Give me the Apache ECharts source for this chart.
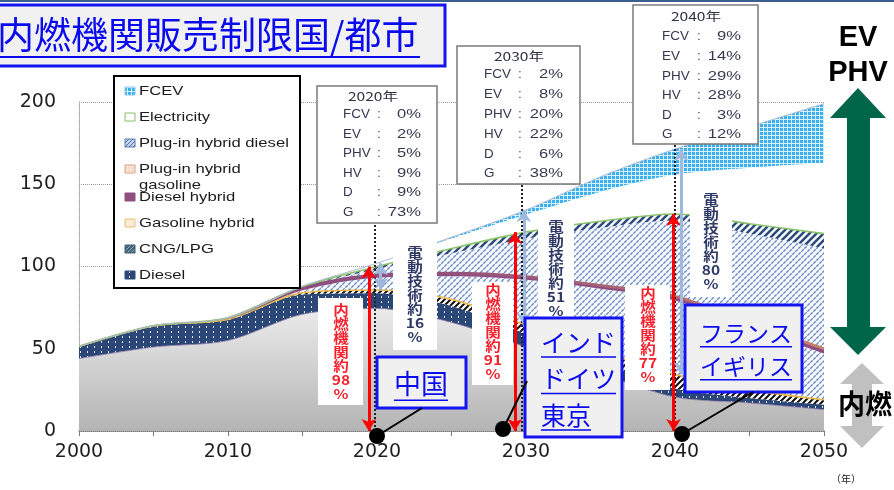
<!DOCTYPE html>
<html>
<head>
<meta charset="utf-8">
<script src="https://cdn.jsdelivr.net/npm/echarts@6/dist/echarts.min.js"></script>
<style>
  html, body { margin: 0; padding: 0; background: #ffffff; }
  #chart { width: 894px; height: 490px; }
</style>
</head>
<body>
<div id="chart"></div>
<script>
// ---- data: new-vehicle sales by powertrain (stacked, bottom to top) ----
const years = [2000, 2005, 2010, 2015, 2020, 2025, 2030, 2035, 2040, 2045, 2050];
const gasoline       = [44, 51, 55, 71, 74.5, 66, 51, 35, 20.6, 17, 13];
const diesel         = [7, 12.5, 12.5, 12, 9.2, 10, 8, 6.5, 5.2, 3, 3];
const cngLpg         = [0.3, 0.3, 0.5, 1, 2, 4, 5.4, 7, 8.6, 5, 3];
const gasolineHybrid = [0.2, 0.3, 0.5, 1.5, 7.5, 14, 27.5, 38, 45, 38, 28];
const dieselHybrid   = [0, 0, 0.2, 1.5, 1.7, 2, 2, 2, 2.5, 3, 3];
const phvGasoline    = [0, 0, 0.1, 0.5, 3.5, 12, 23, 35, 46, 54, 61];
const phvDiesel      = [0, 0, 0, 0.3, 1.6, 3, 4, 4, 4, 6, 9];
const electricity    = [0, 0, 0, 0.2, 2, 6, 10.7, 18, 24, 34, 43];
const fcev           = [0, 0, 0, 0, 0, 0.8, 2.7, 9, 15.5, 25, 36];

// axis ticks
const xTickLabels = [2000, 2010, 2020, 2030, 2040, 2050];
const yTicks = [0, 50, 100, 150, 200];

// share boxes
const shareYears  = ['2020年', '2030年', '2040年'];
const shareLabels = ['FCV', 'EV', 'PHV', 'HV', 'D', 'G'];
const shares2020  = [0, 2, 5, 9, 9, 73];
const shares2030  = [2, 8, 20, 22, 6, 38];
const shares2040  = [9, 14, 29, 28, 3, 12];

// vertical call-outs
const iceShare      = ['98', '91', '77'];
const electricShare = ['16', '51', '80'];

// legend entries (top of the stack first)
const legendNames = ['FCEV', 'Electricity', 'Plug-in hybrid diesel', 'Plug-in hybrid\ngasoline',
                     'Diesel hybrid', 'Gasoline hybrid', 'CNG/LPG', 'Diesel'];

// regions with sales bans
const banChina  = ['中国'];
const banMid    = ['インド', 'ドイツ', '東京'];
const banLate   = ['フランス', 'イギリス'];

// ---- fill patterns ----
function tile(w, h, draw) {
  const c = document.createElement('canvas');
  c.width = w; c.height = h;
  const g = c.getContext('2d');
  draw(g);
  return { image: c, repeat: 'repeat' };
}
function diag(g, w, color, lw) {
  g.strokeStyle = color; g.lineWidth = lw;
  g.beginPath();
  g.moveTo(-1, w + 1); g.lineTo(w + 1, -1);
  g.moveTo(-1, 1); g.lineTo(1, -1);
  g.moveTo(w - 1, w + 1); g.lineTo(w + 1, w - 1);
  g.stroke();
}
const navyDots = tile(7, 5, g => {
  g.fillStyle = '#2a4777'; g.fillRect(0, 0, 7, 5);
  g.fillStyle = 'rgba(255,255,255,0.85)'; g.fillRect(3, 1, 1, 2);
});
const blackHatch = tile(6, 6, g => {
  g.fillStyle = '#ffffff'; g.fillRect(0, 0, 6, 6);
  diag(g, 6, '#111111', 2);
});
const lightDash = tile(6, 6, g => {
  g.fillStyle = '#f7f9fd'; g.fillRect(0, 0, 6, 6);
  g.strokeStyle = '#6688c4'; g.lineWidth = 1.3;
  g.beginPath();
  g.moveTo(0.3, 2.7); g.lineTo(2.7, 0.3);
  g.moveTo(3.3, 5.7); g.lineTo(5.7, 3.3);
  g.stroke();
});
const navyStripes = tile(7, 7, g => {
  g.fillStyle = '#ffffff'; g.fillRect(0, 0, 7, 7);
  diag(g, 7, '#2d4b7d', 2.6);
});
const fcevGrid = tile(4, 4, g => {
  g.fillStyle = '#3cb0ee'; g.fillRect(0, 0, 4, 4);
  g.fillStyle = 'rgba(255,255,255,0.8)';
  g.fillRect(3, 0, 1, 4); g.fillRect(0, 3, 3, 1);
});
const legendStripe = tile(4, 4, g => {
  g.fillStyle = '#c6d6ef'; g.fillRect(0, 0, 4, 4);
  diag(g, 4, '#4a6aa8', 1);
});
const legendPeach = tile(3, 3, g => {
  g.fillStyle = '#f4dccc'; g.fillRect(0, 0, 3, 3);
  g.fillStyle = '#ffffff'; g.fillRect(1, 1, 1, 1);
});
const legendCng = tile(4, 4, g => {
  g.fillStyle = '#3f6278'; g.fillRect(0, 0, 4, 4);
  diag(g, 4, '#a0b4c0', 1);
});
const grayFade = {
  type: 'linear', x: 0, y: 0, x2: 0, y2: 1,
  colorStops: [{ offset: 0, color: '#ebebeb' }, { offset: 1, color: '#b4b4b4' }]
};
const hybridLine = {
  type: 'linear', x: 0, y: 0, x2: 1, y2: 0,
  colorStops: [
    { offset: 0, color: 'rgba(140,76,128,0)' },
    { offset: 0.18, color: 'rgba(140,76,128,0)' },
    { offset: 0.27, color: '#8c4c80' },
    { offset: 0.5, color: '#95527a' },
    { offset: 1, color: '#c8806a' }
  ]
};

const layers = [
  { name: 'Gasoline', data: gasoline, fill: grayFade, line: { width: 1, color: 'rgba(150,130,170,0.8)' } },
  { name: 'Diesel', data: diesel, fill: navyDots, line: { width: 0 } },
  { name: 'CNG/LPG', data: cngLpg, fill: blackHatch, line: { width: 1.6, color: '#e6b84e' } },
  { name: 'Gasoline hybrid', data: gasolineHybrid, fill: lightDash, line: { width: 0 } },
  { name: 'Diesel hybrid', data: dieselHybrid, fill: '#8c4c80', line: { width: 2.8, color: hybridLine } },
  { name: 'Plug-in hybrid gasoline', data: phvGasoline, fill: lightDash, line: { width: 0 } },
  { name: 'Plug-in hybrid diesel', data: phvDiesel, fill: navyStripes, line: { width: 1.6, color: '#8cc46a' } },
  { name: 'Electricity', data: electricity, fill: '#ffffff', line: { width: 0 } },
  { name: 'FCEV', data: fcev, fill: fcevGrid, line: { width: 1, color: '#aabbd6' } }
];

function cum(n, i) {
  let s = 0;
  for (let k = 0; k < n; k++) s += layers[k].data[i];
  return s;
}
const i2020 = years.indexOf(2020), i2030 = years.indexOf(2030), i2040 = years.indexOf(2040);

// value first, year second: the stack then runs on the value dimension
const series = layers.map(l => ({
  type: 'line',
  name: l.name,
  stack: 'sales',
  smooth: 0.3,
  symbol: 'none',
  encode: { x: 1, y: 0 },
  data: years.map((y, i) => [l.data[i], y]),
  lineStyle: l.line,
  areaStyle: { color: l.fill, opacity: 1 },
  emphasis: { disabled: true },
  silent: true,
  z: 2
}));

// guide lines and arrows
function seg(x1, y1, x2, y2, style, arrows) {
  const s = arrows ? 'arrow' : 'none';
  return [{ coord: [x1, y1], symbol: s, lineStyle: style }, { coord: [x2, y2], symbol: s }];
}
const red = { color: '#ff0000', width: 3, type: 'solid' };
const blue = { color: '#9fb8de', width: 3, type: 'solid' };
const dots = { color: '#222222', width: 2, type: 'dotted' };
series.push({
  type: 'line',
  name: 'guides',
  data: [],
  z: 5,
  silent: true,
  markLine: {
    silent: true,
    animation: false,
    label: { show: false },
    symbolSize: [11, 12],
    emphasis: { disabled: true },
    data: [
      seg(2015, -5, 2015, 200, { color: '#000000', width: 4, type: 'solid' }, false),
      seg(2019.85, 0, 2019.85, 127, dots, false),
      seg(2029.7, 0, 2029.7, 150, dots, false),
      seg(2040, 0, 2040, 174.5, dots, false),
      seg(2019.45, 0, 2019.45, cum(7, i2020), red, true),
      seg(2029.25, 0, 2029.25, cum(7, i2030), red, true),
      seg(2039.9, 0, 2039.9, cum(7, i2040), red, true),
      seg(2020.25, cum(3, i2020), 2020.25, cum(9, i2020), blue, true),
      seg(2029.85, cum(3, i2030), 2029.85, cum(9, i2030), blue, true),
      seg(2040.4, cum(3, i2040), 2040.4, cum(9, i2040), blue, true)
    ]
  }
});

// ---- overlay drawing ----
const G = [];
const LS = 'Liberation Sans';
const JP = 'Noto Sans CJK JP';
function rect(x, y, w, h, style, z) {
  G.push({ type: 'rect', shape: { x, y, width: w, height: h }, style, z: z || 100, silent: true });
}
function txt(x, y, str, style, extra) {
  const st = Object.assign({ text: str, x: 0, y: 0 }, style);
  if (st.align) st.textAlign = st.align;
  if (st.verticalAlign) st.textVerticalAlign = st.verticalAlign;
  G.push(Object.assign({ type: 'text', x, y, style: st, z: 110, silent: true }, extra || {}));
}
function ln(x1, y1, x2, y2, color, w, z) {
  G.push({ type: 'line', shape: { x1, y1, x2, y2 }, style: { stroke: color, lineWidth: w }, z: z || 110, silent: true });
}

// top rule
rect(0, 0, 894, 2, { fill: '#3b5f8f' }, 100);

// title
rect(-3, 5, 448, 61, { fill: '#f1f1f1', stroke: '#1414f0', lineWidth: 3 }, 100);
txt(-3, 35, '内燃機関販売制限国/都市',
  { fill: '#0a0aee', fontSize: 37, fontFamily: JP, align: 'left', verticalAlign: 'middle' });
ln(0, 57, 420, 57, '#0a0aee', 2);

// legend
rect(114, 76, 186, 212, { fill: '#ffffff', stroke: '#000000', lineWidth: 2 }, 100);
const legendRows = [91, 117, 143, 169, 197, 223, 249, 275];
const legendIcons = [
  { fill: fcevGrid, stroke: '#8fc8ef' },
  { fill: '#ffffff', stroke: '#86c06a' },
  { fill: legendStripe, stroke: '#5a7ab0' },
  { fill: legendPeach, stroke: '#e0a080' },
  { fill: '#8e4f80', stroke: '#8e4f80' },
  { fill: '#f7ecd8', stroke: '#e8c070' },
  { fill: legendCng, stroke: '#3c5a6a' },
  { fill: navyDots, stroke: '#2c4a7c' }
];
legendNames.forEach((name, k) => {
  const y = legendRows[k];
  rect(125, y - 4, 10, 8, { fill: legendIcons[k].fill, stroke: legendIcons[k].stroke, lineWidth: 1 }, 105);
  const twoLine = name.indexOf('\n') >= 0;
  txt(139, twoLine ? y - 8 : y, name,
    { fill: '#1c1c1c', fontSize: 13, fontFamily: LS, align: 'left',
      verticalAlign: twoLine ? 'top' : 'middle', lineHeight: 16 },
    { scaleX: 1.28 });
});

// share boxes
const shareBoxes = [
  { box: [317, 86, 120, 137], titleX: 373, titleY: 96, rowY: 115, step: 19.5, lx: 343, cx: 379, rx: 421, vals: shares2020 },
  { box: [457, 46, 123, 138], titleX: 519, titleY: 56, rowY: 75, step: 19.8, lx: 484, cx: 520, rx: 563, vals: shares2030 },
  { box: [633, 5, 125, 139], titleX: 696, titleY: 16, rowY: 37, step: 19.6, lx: 662, cx: 699, rx: 741, vals: shares2040 }
];
shareBoxes.forEach((b, k) => {
  rect(b.box[0], b.box[1], b.box[2], b.box[3], { fill: '#ffffff', stroke: '#7a7a7a', lineWidth: 1.5 }, 100);
  txt(b.titleX, b.titleY, shareYears[k],
    { fill: '#30323e', fontSize: 12, fontFamily: JP, align: 'center', verticalAlign: 'middle' },
    { scaleX: 1.3 });
  shareLabels.forEach((lab, r) => {
    const y = b.rowY + b.step * r;
    const style = { fill: '#353850', fontSize: 12, fontFamily: LS, verticalAlign: 'middle' };
    txt(b.lx, y, lab, Object.assign({ align: 'left' }, style), { scaleX: 1.12 });
    txt(b.cx, y, ':', Object.assign({ align: 'center' }, style));
    txt(b.rx, y, b.vals[r] + '%', Object.assign({ align: 'right' }, style), { scaleX: 1.38 });
  });
});

// vertical call-outs
function callout(box, cxp, top, str, color) {
  rect(box[0], box[1], box[2], box[3], { fill: '#ffffff' }, 100);
  txt(cxp, top, str,
    { fill: color, fontSize: 13.5, fontFamily: JP, fontWeight: 'bold', align: 'center', verticalAlign: 'top', lineHeight: 14 },
    { scaleX: 1.15 });
}
const redTxt = '#f5222d', navyTxt = '#2f3a66';
const iceWord = '内\n燃\n機\n関\n約\n';
const eWord = '電\n動\n技\n術\n約\n';
callout([318, 298, 45, 107], 341, 303, iceWord + iceShare[0] + '\n%', redTxt);
callout([393, 238, 44, 112], 415, 246, eWord + electricShare[0] + '\n%', navyTxt);
callout([472, 282, 41, 103], 493, 283, iceWord + iceShare[1] + '\n%', redTxt);
callout([538, 212, 36, 118], 556, 220, eWord + electricShare[1] + '\n%', navyTxt);
callout([625, 285, 45, 105], 648, 286, iceWord + iceShare[2] + '\n%', redTxt);
callout([690, 190, 42, 107], 711, 193, eWord + electricShare[2] + '\n%', navyTxt);

// region boxes
function banBox(box, lines, left, firstY, step, size, center) {
  rect(box[0], box[1], box[2], box[3], { fill: '#f0f0f0', stroke: '#1414f0', lineWidth: 3 }, 120);
  lines.forEach((s, k) => {
    const y = firstY + step * k;
    const w = s.length * size;
    const x0 = center ? left - w / 2 : left;
    G.push({ type: 'text', x: x0, y, z: 121, silent: true,
      style: { text: s, x: 0, y: 0, fill: '#0a0aee', fontSize: size, fontFamily: JP,
               align: 'left', textAlign: 'left', verticalAlign: 'middle', textVerticalAlign: 'middle' } });
    ln(x0, y + size * 0.6, x0 + w, y + size * 0.6, '#0a0aee', 1.6, 121);
  });
}
banBox([377, 357, 89, 51], banChina, 421, 384, 0, 27, true);
banBox([525, 318, 97, 119], banMid, 541, 342, 36.5, 25, false);
banBox([685, 305, 117, 87], banLate, 700, 333, 33, 23, false);

// pointers
ln(377, 436, 422, 408, '#000000', 2, 122);
ln(503, 429, 527, 381, '#000000', 2, 122);
ln(682, 434, 753, 392, '#000000', 2, 122);
[[377, 436], [503, 429], [682, 434]].forEach(p => {
  G.push({ type: 'circle', shape: { cx: p[0], cy: p[1], r: 8 }, style: { fill: '#000000' }, z: 123, silent: true });
});

// right-hand arrows and captions
G.push({ type: 'polygon', z: 100, silent: true, style: { fill: '#00664a' },
  shape: { points: [[858, 88], [886, 118], [870, 118], [870, 327], [886, 327], [858, 355],
                    [830, 327], [847, 327], [847, 118], [830, 118]] } });
G.push({ type: 'polygon', z: 100, silent: true, style: { fill: '#c0c0c0' },
  shape: { points: [[862, 363], [884, 384], [872, 384], [872, 426], [884, 426], [862, 448],
                    [840, 426], [852, 426], [852, 384], [840, 384]] } });
txt(858, 38, 'EV', { fill: '#000000', fontSize: 29, fontWeight: 'bold', fontFamily: LS, align: 'center', verticalAlign: 'middle' });
txt(858, 73, 'PHV', { fill: '#000000', fontSize: 29, fontWeight: 'bold', fontFamily: LS, align: 'center', verticalAlign: 'middle' });
txt(865, 404, '内燃', { fill: '#000000', fontSize: 27, fontWeight: 'bold', fontFamily: JP, align: 'center', verticalAlign: 'middle' });
txt(846, 479, '（年）', { fill: '#222222', fontSize: 10, fontFamily: JP, align: 'center', verticalAlign: 'middle' });

const chart = echarts.init(document.getElementById('chart'), null, { renderer: 'canvas' });
chart.setOption({
  animation: false,
  backgroundColor: '#ffffff',
  grid: { left: 79, right: 70, top: 102, bottom: 59, containLabel: false },
  xAxis: {
    type: 'value',
    min: years[0],
    max: years[years.length - 1],
    interval: 5,
    axisLine: { show: true, lineStyle: { color: '#7a7a7a', width: 1.5 } },
    axisTick: { show: true, length: 5, lineStyle: { color: '#7a7a7a' } },
    splitLine: { show: false },
    axisLabel: {
      margin: 12,
      fontSize: 19,
      fontFamily: 'DejaVu Sans',
      color: '#1e1e1e',
      formatter: v => (xTickLabels.indexOf(v) >= 0 ? String(v) : '')
    }
  },
  yAxis: {
    type: 'value',
    min: yTicks[0],
    max: yTicks[yTicks.length - 1],
    interval: yTicks[1] - yTicks[0],
    axisLine: { show: true, lineStyle: { color: '#a0a0a0', type: 'dotted' } },
    axisTick: { show: false },
    splitLine: { show: true, lineStyle: { color: '#9a9a9a', type: 'dotted', width: 1 } },
    axisLabel: { margin: 23, fontSize: 19, fontFamily: 'DejaVu Sans', color: '#1e1e1e' }
  },
  series,
  graphic: { elements: G }
});
</script>
</body>
</html>
